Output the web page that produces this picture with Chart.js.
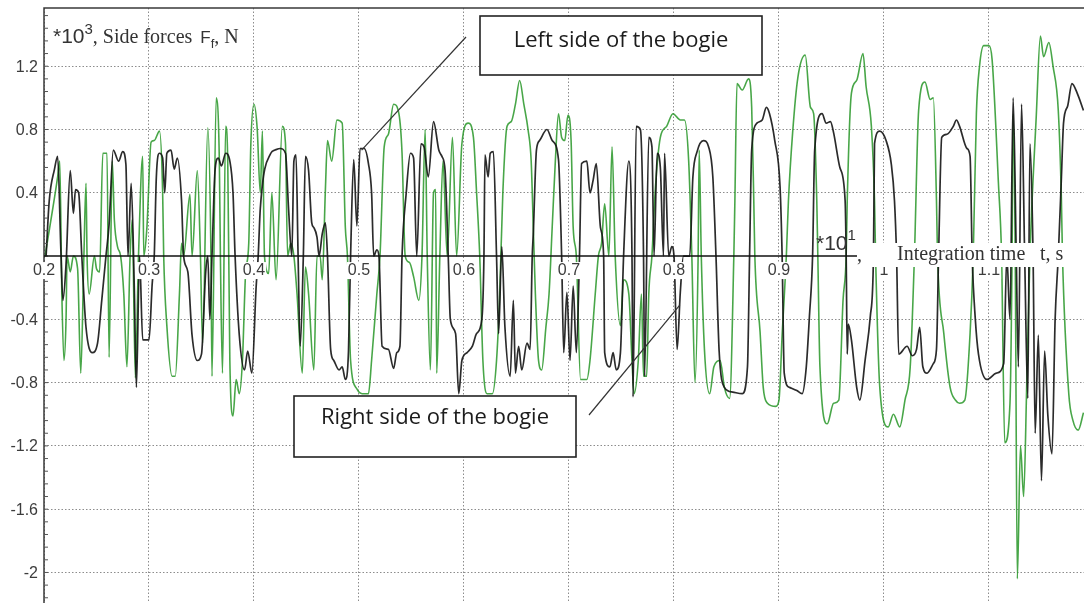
<!DOCTYPE html>
<html>
<head>
<meta charset="utf-8">
<script src="https://cdn.jsdelivr.net/npm/chart.js@4.4.1/dist/chart.umd.min.js"></script>
<style>
  html, body { margin: 0; padding: 0; background: #fff; }
  canvas { display: block; }
</style>
</head>
<body>
<canvas id="chart" width="1084" height="603"></canvas>
<script>
// Time axis, *10^1 s
const xMin = 0.2;
const xMax = 1.1905;
const xTickValues = [0.2, 0.3, 0.4, 0.5, 0.6, 0.7, 0.8, 0.9, 1.0, 1.1];
const xTickLabels = ['0.2', '0.3', '0.4', '0.5', '0.6', '0.7', '0.8', '0.9', '1', '1.1'];

// Side force axis, *10^3 N
const yMin = -2.193;
const yMax = 1.568;
const yTickValues = [1.2, 0.8, 0.4, -0.4, -0.8, -1.2, -1.6, -2];
const yTickLabels = ['1.2', '0.8', '0.4', '-0.4', '-0.8', '-1.2', '-1.6', '-2'];

// Left side of the bogie (black)
const leftTime = [
  0.202, 0.205, 0.210, 0.213, 0.216, 0.218, 0.221, 0.225, 0.228, 0.230,
  0.233, 0.236, 0.240, 0.246, 0.251, 0.255, 0.259, 0.262, 0.266, 0.271,
  0.275, 0.278, 0.280, 0.283, 0.286, 0.288, 0.291, 0.294, 0.300, 0.303,
  0.305, 0.307, 0.310, 0.313, 0.315, 0.317, 0.321, 0.324, 0.327, 0.331,
  0.333, 0.337, 0.341, 0.346, 0.350, 0.354, 0.356, 0.358, 0.360, 0.363,
  0.366, 0.369, 0.373, 0.377, 0.380, 0.382, 0.386, 0.391, 0.394, 0.398,
  0.402, 0.404, 0.406, 0.416, 0.420, 0.425, 0.430, 0.433, 0.436, 0.438,
  0.440, 0.442, 0.444, 0.447, 0.449, 0.452, 0.455, 0.457, 0.460, 0.462,
  0.465, 0.468, 0.470, 0.473, 0.476, 0.481, 0.484, 0.487, 0.490, 0.492,
  0.495, 0.498, 0.501, 0.505, 0.509, 0.512, 0.514, 0.517, 0.519, 0.522,
  0.528, 0.533, 0.536, 0.539, 0.541, 0.545, 0.549, 0.552, 0.555, 0.559,
  0.562, 0.566, 0.571, 0.576, 0.579, 0.582, 0.585, 0.587, 0.592, 0.595,
  0.598, 0.603, 0.608, 0.612, 0.617, 0.619, 0.620, 0.623, 0.625, 0.628,
  0.631, 0.633, 0.636, 0.639, 0.644, 0.647, 0.649, 0.652, 0.655, 0.660,
  0.663, 0.665, 0.666, 0.669, 0.672, 0.679, 0.684, 0.690, 0.693, 0.695,
  0.698, 0.701, 0.704, 0.707, 0.710, 0.712, 0.717, 0.720, 0.723, 0.726,
  0.730, 0.733, 0.734, 0.739, 0.742, 0.745, 0.749, 0.752, 0.757, 0.760,
  0.761, 0.764, 0.768, 0.771, 0.772, 0.776, 0.779, 0.781, 0.784, 0.787,
  0.790, 0.791, 0.795, 0.798, 0.800, 0.803, 0.806, 0.809, 0.815, 0.818,
  0.822, 0.828, 0.833, 0.837, 0.840, 0.843, 0.848, 0.856, 0.865, 0.870,
  0.872, 0.874, 0.879, 0.884, 0.888, 0.891, 0.896, 0.901, 0.903, 0.905,
  0.910, 0.917, 0.922, 0.926, 0.929, 0.932, 0.934, 0.941, 0.945, 0.949,
  0.952, 0.958, 0.963, 0.964, 0.965, 0.966, 0.969, 0.974, 0.977, 0.982,
  0.987, 0.990, 0.991, 0.996, 1.002, 1.007, 1.010, 1.012, 1.014, 1.022,
  1.027, 1.031, 1.034, 1.037, 1.041, 1.047, 1.050, 1.052, 1.055, 1.060,
  1.066, 1.069, 1.072, 1.079, 1.082, 1.084, 1.087, 1.090, 1.098, 1.107,
  1.114, 1.117, 1.120, 1.123, 1.126, 1.128, 1.131, 1.134, 1.137, 1.139,
  1.142, 1.144, 1.147, 1.150, 1.153, 1.156, 1.160, 1.163, 1.166, 1.169,
  1.171, 1.175, 1.179, 1.184, 1.190
];
const leftForce = [
  0.00, 0.35, 0.55, 0.63, 0.05, -0.28, -0.05, 0.54, 0.27, 0.42,
  0.40, 0.00, -0.45, -0.61, -0.55, -0.28, 0.00, 0.20, 0.67, 0.60,
  0.66, 0.58, 0.00, 0.46, -0.20, -0.83, 0.00, -0.53, -0.53, -0.18,
  0.00, 0.50, 0.65, 0.62, 0.40, 0.65, 0.67, 0.55, 0.62, 0.35,
  0.00, -0.10, -0.50, -0.66, -0.62, -0.10, 0.00, -0.40, 0.00, 0.55,
  0.62, 0.57, 0.65, 0.60, 0.40, 0.00, -0.50, -0.72, -0.60, -0.74,
  -0.20, 0.00, 0.30, 0.65, 0.67, 0.68, 0.65, 0.29, 0.00, 0.60,
  0.64, 0.00, -0.57, 0.00, 0.63, 0.54, 0.21, 0.18, 0.12, 0.00,
  0.14, 0.21, 0.00, -0.59, -0.66, -0.72, -0.70, -0.78, -0.60, 0.00,
  0.61, 0.19, 0.68, 0.68, 0.585, 0.40, 0.00, 0.04, 0.00, -0.57,
  -0.59, -0.71, -0.61, -0.57, 0.00, 0.40, 0.65, 0.62, 0.00, 0.71,
  0.69, 0.50, 0.85, 0.67, 0.63, 0.54, 0.00, -0.40, -0.49, -0.87,
  -0.66, -0.61, -0.57, -0.49, -0.40, 0.00, 0.64, 0.50, 0.65, 0.66,
  0.00, -0.49, 0.06, -0.45, -0.76, -0.28, -0.74, -0.57, -0.72, -0.55,
  -0.59, 0.00, 0.14, 0.67, 0.73, 0.80, 0.73, 0.61, 0.00, -0.61,
  -0.23, -0.66, -0.19, -0.61, 0.00, 0.585, 0.60, 0.40, 0.48, 0.585,
  0.18, 0.00, -0.61, -0.70, -0.61, -0.72, -0.61, 0.00, 0.60, 0.00,
  -0.89, 0.82, 0.80, 0.00, -0.76, 0.75, 0.69, 0.00, 0.65, 0.56,
  0.00, 0.65, 0.00, 0.06, 0.00, -0.59, -0.23, 0.00, 0.00, 0.50,
  0.66, 0.73, 0.69, 0.50, 0.00, -0.60, -0.83, -0.86, -0.87, -0.70,
  0.00, 0.67, 0.84, 0.86, 0.94, 0.90, 0.73, 0.44, 0.00, -0.74,
  -0.83, -0.85, -0.87, -0.70, -0.38, 0.00, 0.67, 0.90, 0.84, 0.85,
  0.78, 0.56, 0.35, 0.00, -0.62, -0.43, -0.53, -0.83, -0.91, -0.66,
  -0.38, 0.00, 0.71, 0.79, 0.73, 0.58, 0.35, 0.00, -0.62, -0.57,
  -0.63, -0.59, -0.45, -0.70, -0.74, -0.68, -0.59, 0.00, 0.75, 0.77,
  0.82, 0.86, 0.82, 0.68, 0.63, 0.00, -0.40, -0.62, -0.78, -0.74,
  -0.68, 0.00, -0.40, 1.00, 0.00, -0.70, 0.96, 0.00, -0.90, 0.71,
  0.00, -1.12, -0.50, -1.42, -0.60, -1.00, -1.25, -0.40, 0.00, 0.50,
  0.84, 0.95, 1.09, 1.03, 0.92
];

// Right side of the bogie (green)
const rightTime = [
  0.201, 0.213, 0.215, 0.217, 0.219, 0.221, 0.222, 0.225, 0.228, 0.232,
  0.235, 0.238, 0.240, 0.241, 0.243, 0.248, 0.250, 0.253, 0.256, 0.260,
  0.262, 0.265, 0.267, 0.270, 0.273, 0.276, 0.279, 0.282, 0.284, 0.287,
  0.290, 0.294, 0.295, 0.298, 0.302, 0.305, 0.310, 0.313, 0.314, 0.317,
  0.322, 0.325, 0.329, 0.331, 0.333, 0.339, 0.341, 0.346, 0.349, 0.351,
  0.356, 0.359, 0.360, 0.364, 0.367, 0.368, 0.370, 0.373, 0.375, 0.377,
  0.380, 0.383, 0.386, 0.389, 0.392, 0.395, 0.397, 0.400, 0.403, 0.406,
  0.408, 0.410, 0.414, 0.417, 0.421, 0.427, 0.430, 0.432, 0.435, 0.438,
  0.441, 0.446, 0.449, 0.452, 0.457, 0.460, 0.463, 0.465, 0.468, 0.470,
  0.474, 0.479, 0.484, 0.487, 0.489, 0.492, 0.498, 0.503, 0.509, 0.512,
  0.517, 0.520, 0.524, 0.528, 0.533, 0.538, 0.541, 0.544, 0.548, 0.552,
  0.557, 0.560, 0.563, 0.565, 0.568, 0.571, 0.573, 0.574, 0.577, 0.580,
  0.584, 0.589, 0.593, 0.598, 0.604, 0.609, 0.612, 0.615, 0.618, 0.622,
  0.627, 0.631, 0.634, 0.637, 0.641, 0.645, 0.649, 0.653, 0.657, 0.661,
  0.664, 0.666, 0.668, 0.671, 0.674, 0.678, 0.681, 0.684, 0.687, 0.690,
  0.693, 0.696, 0.699, 0.702, 0.704, 0.707, 0.711, 0.717, 0.720, 0.725,
  0.728, 0.731, 0.734, 0.738, 0.741, 0.744, 0.749, 0.752, 0.757, 0.760,
  0.762, 0.766, 0.769, 0.771, 0.774, 0.776, 0.779, 0.782, 0.787, 0.793,
  0.799, 0.806, 0.810, 0.814, 0.817, 0.820, 0.823, 0.824, 0.826, 0.829,
  0.834, 0.838, 0.844, 0.848, 0.853, 0.857, 0.858, 0.860, 0.865, 0.871,
  0.874, 0.876, 0.877, 0.882, 0.885, 0.889, 0.897, 0.900, 0.903, 0.907,
  0.909, 0.913, 0.918, 0.925, 0.930, 0.933, 0.936, 0.937, 0.939, 0.946,
  0.952, 0.957, 0.961, 0.964, 0.965, 0.969, 0.974, 0.980, 0.983, 0.988,
  0.991, 0.992, 0.996, 1.004, 1.009, 1.015, 1.020, 1.025, 1.029, 1.033,
  1.039, 1.044, 1.047, 1.050, 1.051, 1.057, 1.063, 1.068, 1.072, 1.077,
  1.082, 1.085, 1.088, 1.091, 1.095, 1.100, 1.103, 1.109, 1.112, 1.115,
  1.120, 1.122, 1.123, 1.125, 1.127, 1.130, 1.133, 1.136, 1.139, 1.145,
  1.149, 1.152, 1.157, 1.161, 1.166, 1.169, 1.170, 1.176, 1.180, 1.185,
  1.190
];
const rightForce = [
  0.00, 0.50, 0.60, -0.24, -0.66, -0.40, 0.00, -0.10, 0.00, -0.08,
  -0.74, 0.00, 0.46, 0.00, -0.24, 0.00, -0.08, -0.10, 0.65, 0.65,
  -0.64, 0.60, 0.23, 0.06, 0.00, -0.24, -0.70, 0.00, 0.23, -0.77,
  0.00, 0.63, 0.00, 0.18, 0.72, 0.73, 0.79, 0.40, 0.00, -0.44,
  -0.76, -0.76, -0.24, 0.08, 0.00, 0.39, 0.00, 0.54, 0.00, -0.55,
  0.81, 0.00, -0.76, 1.00, 0.60, 0.00, -0.74, 0.82, 0.60, -0.66,
  -1.01, -0.78, -0.87, -0.66, -0.11, 0.08, 0.71, 0.96, 0.81, 0.40,
  0.79, 0.00, -0.11, 0.40, -0.15, 0.82, 0.71, 0.00, 0.08, 0.00,
  -0.24, -0.74, -0.07, -0.24, -0.72, 0.00, 0.00, -0.15, 0.42, 0.73,
  0.60, 0.86, 0.84, 0.18, 0.00, -0.66, -0.84, -0.87, -0.87, -0.66,
  -0.24, 0.00, 0.69, 0.77, 0.96, 0.90, 0.65, 0.00, -0.04, -0.13,
  -0.28, 0.00, 0.80, 0.00, -0.72, 0.40, 0.42, -0.74, 0.00, 0.60,
  0.00, 0.75, 0.00, 0.71, 0.84, 0.75, 0.40, 0.00, -0.66, -0.87,
  -0.87, -0.66, -0.24, 0.40, 0.82, 0.85, 0.96, 1.11, 0.96, 0.80,
  0.60, 0.18, -0.24, -0.66, -0.72, -0.45, -0.24, 0.18, 0.60, 0.90,
  0.75, 0.73, 0.89, 0.73, 0.18, 0.00, -0.78, -0.78, -0.66, -0.24,
  0.00, 0.08, 0.33, 0.00, 0.69, 0.00, -0.44, -0.15, -0.24, -0.66,
  -0.87, -0.66, -0.24, -0.76, -0.76, -0.24, 0.00, 0.40, 0.75, 0.82,
  0.90, 0.86, 0.86, 0.60, 0.00, -0.80, 0.00, 0.67, 0.00, -0.59,
  -0.87, -0.70, -0.66, -0.83, -0.90, 0.00, 0.35, 1.09, 1.05, 1.12,
  0.94, 0.35, 0.00, -0.48, -0.83, -0.93, -0.95, -0.91, -0.50, 0.00,
  0.35, 0.78, 1.13, 1.27, 0.94, 0.90, 0.35, 0.00, -0.70, -1.06,
  -0.93, -0.91, -0.28, 0.00, 0.35, 1.03, 1.11, 1.28, 1.07, 0.82,
  0.35, 0.00, -0.83, -1.08, -1.00, -1.08, -0.91, -0.70, 0.00, 0.92,
  1.10, 0.99, 1.00, 0.35, 0.00, -0.49, -0.83, -0.91, -0.93, -0.91,
  -0.49, 0.00, 0.90, 1.20, 1.33, 1.33, 1.24, 0.46, 0.00, -1.18,
  -0.93, 0.00, 0.90, 0.00, -2.04, -1.20, -1.52, -0.80, 0.00, 0.88,
  1.39, 1.26, 1.35, 1.20, 0.92, 0.35, 0.00, -0.87, -1.04, -1.10,
  -0.99
];

// x axis line stops where its caption starts
const axisLineEnd = 0.9743;

function toPoints(xs, ys) {
  return xs.map((x, i) => ({ x, y: ys[i] }));
}

// draw text pieces one after another, each with its own font and baseline
function drawRun(ctx, x, pieces) {
  pieces.forEach(p => {
    ctx.font = p.font;
    ctx.fillText(p.text, x, p.y);
    x += ctx.measureText(p.text).width + (p.gap || 0);
  });
}

const SANS = '"Liberation Sans", Arial, sans-serif';
const SERIF = '"Liberation Serif", "Times New Roman", serif';

// Text, axis line, minor ticks and callouts on top of the curves
const overlayPlugin = {
  id: 'overlay',
  afterDatasetsDraw(chart) {
    const { ctx, chartArea } = chart;
    const xs = chart.scales.x;
    const ys = chart.scales.y;
    const y0 = ys.getPixelForValue(0);
    ctx.save();

    // frame: left axis and top edge
    ctx.strokeStyle = '#3a3a3a';
    ctx.lineWidth = 1.5;
    ctx.beginPath();
    ctx.moveTo(chartArea.left, chartArea.bottom);
    ctx.lineTo(chartArea.left, chartArea.top);
    ctx.lineTo(chartArea.right, chartArea.top);
    ctx.stroke();

    // minor ticks on the left axis
    ctx.lineWidth = 1;
    ctx.strokeStyle = '#555';
    for (let k = -27; k <= 19; k++) {
      const py = ys.getPixelForValue(k * 0.08);
      if (py < chartArea.top + 2) continue;
      ctx.beginPath();
      ctx.moveTo(chartArea.left, py);
      ctx.lineTo(chartArea.left + 4, py);
      ctx.stroke();
    }

    // x axis through zero
    ctx.strokeStyle = '#111';
    ctx.lineWidth = 1.6;
    ctx.beginPath();
    ctx.moveTo(chartArea.left, y0);
    ctx.lineTo(xs.getPixelForValue(axisLineEnd), y0);
    ctx.stroke();

    // x tick labels with white backing
    ctx.font = '16px ' + SANS;
    ctx.textAlign = 'center';
    ctx.textBaseline = 'middle';
    xTickValues.forEach((v, i) => {
      const px = xs.getPixelForValue(v);
      const w = ctx.measureText(xTickLabels[i]).width;
      ctx.fillStyle = '#fff';
      ctx.fillRect(px - w / 2 - 1, y0 + 6, w + 2, 17);
      ctx.fillStyle = '#3c3c3c';
      ctx.fillText(xTickLabels[i], px, y0 + 15);
    });

    // y tick labels
    ctx.textAlign = 'right';
    yTickValues.forEach((v, i) => {
      ctx.fillStyle = '#3c3c3c';
      ctx.fillText(yTickLabels[i], chartArea.left - 6, ys.getPixelForValue(v) + 1);
    });

    // y axis caption
    ctx.textAlign = 'left';
    ctx.textBaseline = 'alphabetic';
    ctx.fillStyle = '#333';
    drawRun(ctx, 53, [
      { text: '*10', font: '21px ' + SANS, y: 43 },
      { text: '3', font: '15px ' + SANS, y: 34 },
      { text: ', Side forces', font: '20px ' + SERIF, y: 43, gap: 8 },
      { text: 'F', font: '17px ' + SANS, y: 43 },
      { text: 'f', font: '13px ' + SANS, y: 48 },
      { text: ', N', font: '20px ' + SERIF, y: 43 }
    ]);

    // x axis caption
    drawRun(ctx, 816, [
      { text: '*10', font: '21px ' + SANS, y: 250 },
      { text: '1', font: '15px ' + SANS, y: 240 }
    ]);
    ctx.font = '20px ' + SERIF;
    ctx.fillText(',', 857, 261);
    ctx.fillStyle = '#fff';
    ctx.fillRect(864, 243, 202, 24);
    ctx.fillStyle = '#333';
    ctx.fillText('Integration time', 897, 260);
    ctx.fillText('t, s', 1040, 260);

    // callouts
    const callouts = [
      { text: 'Left side of the bogie', box: [480, 16, 282, 59], base: 47,
        from: [466, 37], to: [0.5025, 0.67] },
      { text: 'Right side of the bogie', box: [294, 396, 282, 61], base: 424,
        from: [589, 415], to: [0.8055, -0.31] }
    ];
    callouts.forEach(c => {
      ctx.strokeStyle = '#333';
      ctx.lineWidth = 1.2;
      ctx.beginPath();
      ctx.moveTo(c.from[0], c.from[1]);
      ctx.lineTo(xs.getPixelForValue(c.to[0]), ys.getPixelForValue(c.to[1]));
      ctx.stroke();
      const [bx, by, bw, bh] = c.box;
      ctx.fillStyle = '#fff';
      ctx.fillRect(bx, by, bw, bh);
      ctx.lineWidth = 1.6;
      ctx.strokeStyle = '#222';
      ctx.strokeRect(bx, by, bw, bh);
      ctx.fillStyle = '#1c1c1c';
      ctx.font = '22px "Open Sans", sans-serif';
      ctx.textAlign = 'center';
      ctx.fillText(c.text, bx + bw / 2, c.base);
      ctx.textAlign = 'left';
    });

    ctx.restore();
  }
};

new Chart(document.getElementById('chart'), {
  type: 'line',
  data: {
    datasets: [
      {
        label: 'Left side of the bogie',
        data: toPoints(leftTime, leftForce),
        borderColor: 'rgba(20, 20, 20, 0.9)',
        borderWidth: 1.7,
        pointRadius: 0,
        cubicInterpolationMode: 'monotone',
        fill: false
      },
      {
        label: 'Right side of the bogie',
        data: toPoints(rightTime, rightForce),
        borderColor: 'rgba(40, 150, 40, 0.85)',
        borderWidth: 1.6,
        pointRadius: 0,
        cubicInterpolationMode: 'monotone',
        fill: false
      }
    ]
  },
  options: {
    responsive: false,
    animation: false,
    layout: { padding: { left: 44, top: 8, right: 0, bottom: 0 } },
    plugins: {
      legend: { display: false },
      tooltip: { enabled: false }
    },
    scales: {
      x: {
        type: 'linear',
        min: xMin,
        max: xMax,
        afterFit: s => { s.height = 0; },
        ticks: { display: false, stepSize: 0.1, includeBounds: false },
        grid: { color: '#8c8c8c', lineWidth: 1, drawTicks: false },
        border: { display: false, dash: [1.5, 2] }
      },
      y: {
        type: 'linear',
        min: yMin,
        max: yMax,
        afterFit: s => { s.width = 0; },
        ticks: { display: false, stepSize: 0.4, includeBounds: false },
        grid: {
          color: c => (Math.abs(c.tick.value) < 1e-6 ? 'rgba(0,0,0,0)' : '#8c8c8c'),
          lineWidth: 1,
          drawTicks: false
        },
        border: { display: false, dash: [1.5, 2] }
      }
    }
  },
  plugins: [overlayPlugin]
});
</script>
</body>
</html>
